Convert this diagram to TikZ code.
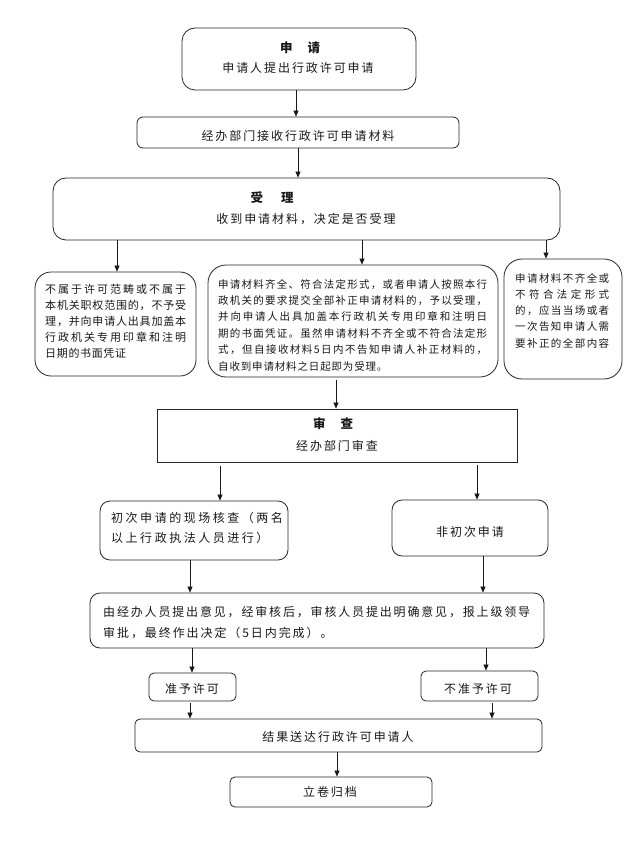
\documentclass[tikz,border=0pt]{standalone}
\usepackage{fontspec}
\newfontfamily\cjk[LetterSpace=16]{Noto Sans CJK SC}
\usetikzlibrary{arrows.meta}
\ExplSyntaxOn
\NewDocumentCommand\jl{mm}{\makebox[#1][s]{\tl_map_inline:nn{#2}{##1\hfil}\hskip 0pt plus -1fil\relax}}
\ExplSyntaxOff
\tikzset{
  box/.style={draw=black!85, line width=0.8pt, inner sep=0pt},
  rb/.style={box, rounded corners=#1},
  rb/.default=6pt,
  txt/.style={inner sep=0pt, text=black!90, font=\cjk\fontsize{12}{16}\selectfont},
  ttl/.style={txt, font=\cjk\bfseries\fontsize{12.5}{16}\selectfont},
  arr/.style={-{Triangle[length=6pt,width=5pt]}, line width=0.7pt, black!90},
}
\begin{document}
\begin{tikzpicture}[x=1pt,y=-1pt]
\useasboundingbox[fill=white] (0,0) rectangle (637,842);

% boxes
\node[rb=13pt, minimum width=234pt, minimum height=62pt] (b1) at (299,59) {};
\node[rb=6pt, minimum width=322pt, minimum height=31pt] (b2) at (298,132.5) {};
\node[rb=13pt, minimum width=507pt, minimum height=62pt] (b3) at (306.5,209) {};
\node[rb=16pt, minimum width=161pt, minimum height=104pt] (b4) at (115.5,324) {};
\node[rb=18pt, minimum width=290pt, minimum height=112pt] (b5) at (353,321) {};
\node[rb=18pt, minimum width=118pt, minimum height=120pt] (b6) at (563,319) {};
\node[box, minimum width=360pt, minimum height=53pt] (b7) at (337,435.5) {};
\node[rb=10pt, minimum width=188pt, minimum height=59pt] (b8) at (194,530.5) {};
\node[rb=10pt, minimum width=156pt, minimum height=56pt] (b9) at (470,528) {};
\node[rb=10pt, minimum width=454pt, minimum height=55pt] (b10) at (317,620.5) {};
\node[rb=5pt, minimum width=87pt, minimum height=28pt] (b11) at (192.5,687) {};
\node[rb=5pt, minimum width=117pt, minimum height=30pt] (b12) at (479.5,686) {};
\node[rb=5pt, minimum width=407pt, minimum height=33pt] (b13) at (338.5,735.5) {};
\node[rb=5pt, minimum width=202pt, minimum height=30pt] (b14) at (331,792) {};

% texts
\node[ttl] (t1a) at (300,48) {\jl{40pt}{申请}};
\node[txt] (t1b) at (298,68) {申请人提出行政许可申请};
\node[txt] (t2) at (298,136) {经办部门接收行政许可申请材料};
\node[ttl] (t3a) at (272,198) {\jl{43pt}{受理}};
\node[txt] (t3b) at (306,219) {收到申请材料，决定是否受理};
\node[txt, anchor=west, align=left, font=\cjk\addfontfeature{LetterSpace=6}\fontsize{11}{16}\selectfont] (t4) at (45,321.5) {%
\jl{141pt}{不属于许可范畴或不属于}\\
\jl{141pt}{本机关职权范围的，不予受}\\
\jl{141pt}{理，并向申请人出具加盖本}\\
\jl{141pt}{行政机关专用印章和注明}\\
日期的书面凭证};
\node[txt, anchor=west, align=left, font=\cjk\addfontfeature{LetterSpace=8}\fontsize{10.5}{16.4}\selectfont] (t5) at (218,325) {%
\jl{269pt}{申请材料齐全、符合法定形式，或者申请人按照本行}\\
\jl{269pt}{政机关的要求提交全部补正申请材料的，予以受理，}\\
\jl{269pt}{并向申请人出具加盖本行政机关专用印章和注明日}\\
\jl{269pt}{期的书面凭证。虽然申请材料不齐全或不符合法定形}\\
\jl{269pt}{式，但自接收材料5日内不告知申请人补正材料的，}\\
自收到申请材料之日起即为受理。};
\node[txt, anchor=west, align=left, font=\cjk\addfontfeature{LetterSpace=8}\fontsize{10.5}{16.25}\selectfont] (t6) at (515,310.5) {%
\jl{94pt}{申请材料不齐全或}\\
\jl{94pt}{不符合法定形式}\\
\jl{94pt}{的，应当当场或者}\\
\jl{94pt}{一次告知申请人需}\\
\jl{94pt}{要补正的全部内容}};
\node[ttl] (t7a) at (333,424) {\jl{40pt}{审查}};
\node[txt] (t7b) at (337,446) {经办部门审查};
\node[txt, anchor=west, align=left, font=\cjk\addfontfeature{LetterSpace=21}\fontsize{12}{20}\selectfont] (t8) at (111,528) {%
初次申请的现场核查（两名\\
以上行政执法人员进行）};
\node[txt] (t9) at (470,532) {非初次申请};
\node[txt, anchor=west, align=left, font=\cjk\fontsize{12}{21}\selectfont] (t10) at (103,622.5) {%
\jl{427pt}{由经办人员提出意见，经审核后，审核人员提出明确意见，报上级领导}\\
审批，最终作出决定（5日内完成）。};
\node[txt] (t11) at (192,689) {准予许可};
\node[txt] (t12) at (478,689) {不准予许可};
\node[txt] (t13) at (338,737) {结果送达行政许可申请人};
\node[txt] (t14) at (330,792) {立卷归档};

% arrows
\draw[arr] (b1.south -| 296,0) -- (b2.north -| 296,0);
\draw[arr] (b2.south -| 298,0) -- (b3.north -| 298,0);
\draw[arr] (b3.south -| 117,0) -- (b4.north -| 117,0);
\draw[arr] (b3.south -| 362,0) -- (b5.north -| 362,0);
\draw[arr] (b3.south -| 546,0) -- (b6.north -| 546,0);
\draw[arr, shorten <=3pt] (b5.south -| 336,0) -- (b7.north -| 336,0);
\draw[arr, shorten <=4pt] (b7.south -| 220,0) -- (b8.north -| 220,0);
\draw[arr, shorten <=3pt] (b7.south -| 477,0) -- (b9.north -| 477,0);
\draw[arr] (b8.south -| 190,0) -- (b10.north -| 190,0);
\draw[arr] (b9.south -| 483,0) -- (b10.north -| 483,0);
\draw[arr] (b10.south -| 192,0) -- (b11.north -| 192,0);
\draw[arr] (b10.south -| 486,0) -- (b12.north -| 486,0);
\draw[arr, shorten <=2pt] (b11.south -| 190,0) -- (b13.north -| 190,0);
\draw[arr, shorten <=2pt] (b12.south -| 492,0) -- (b13.north -| 492,0);
\draw[arr] (b13.south -| 337,0) -- (b14.north -| 337,0);
\end{tikzpicture}
\end{document}
